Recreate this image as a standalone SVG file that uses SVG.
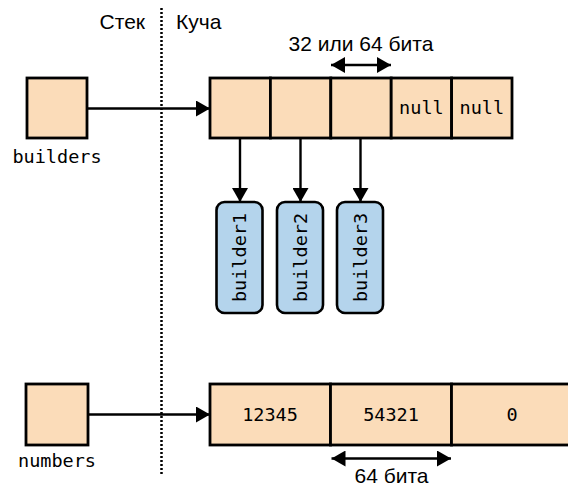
<svg xmlns="http://www.w3.org/2000/svg" width="568" height="486" viewBox="0 0 568 486">
<style>
.cell{fill:#fbdcb9;stroke:#000;stroke-width:2.8}
.obj{fill:#b4d4ec;stroke:#000;stroke-width:2.6}
.ln{stroke:#000;stroke-width:2.4;fill:none}
.mono{font-family:"DejaVu Sans Mono","Liberation Mono",monospace;font-size:18.5px;fill:#000}
.sans{font-family:"Liberation Sans",Arial,sans-serif;font-size:21px;fill:#000}
</style>
<defs>
<marker id="ah" markerUnits="userSpaceOnUse" markerWidth="14" markerHeight="16" refX="14" refY="8" orient="auto-start-reverse">
<path d="M0,0 L14,8 L0,16 z" fill="#000"/>
</marker>
</defs>
<rect width="568" height="486" fill="#fff"/>
<g id="divider">
<line x1="161.5" y1="8" x2="161.5" y2="476" stroke="#000" stroke-width="2.5" stroke-dasharray="2 2"/>
<text class="sans" x="145" y="29" text-anchor="end">Стек</text>
<text class="sans" x="176" y="29">Куча</text>
</g>
<g id="builders">
<rect class="cell" x="27" y="78" width="60" height="60"/>
<text class="mono" x="57" y="163" text-anchor="middle">builders</text>
</g>
<g id="builders-array">
<rect class="cell" x="210" y="78" width="60.4" height="60"/>
<rect class="cell" x="270.4" y="78" width="60.4" height="60"/>
<rect class="cell" x="330.8" y="78" width="60.4" height="60"/>
<rect class="cell" x="391.2" y="78" width="60.4" height="60"/>
<rect class="cell" x="451.6" y="78" width="60.4" height="60"/>
<text class="mono" x="421.4" y="114" text-anchor="middle">null</text>
<text class="mono" x="481.8" y="114" text-anchor="middle">null</text>
</g>
<g id="size-top">
<text class="sans" x="361" y="51" text-anchor="middle">32 или 64 бита</text>
</g>
<g id="builder1">
<rect class="obj" x="216.5" y="202" width="46" height="111" rx="8"/>
<text class="mono" transform="translate(246,257.5) rotate(-90)" text-anchor="middle">builder1</text>
</g>
<g id="builder2">
<rect class="obj" x="277" y="202" width="46" height="111" rx="8"/>
<text class="mono" transform="translate(306.5,257.5) rotate(-90)" text-anchor="middle">builder2</text>
</g>
<g id="builder3">
<rect class="obj" x="337" y="202" width="46" height="111" rx="8"/>
<text class="mono" transform="translate(366.5,257.5) rotate(-90)" text-anchor="middle">builder3</text>
</g>
<g id="numbers">
<rect class="cell" x="26" y="384" width="62" height="61"/>
<text class="mono" x="57" y="467" text-anchor="middle">numbers</text>
</g>
<g id="numbers-array">
<rect class="cell" x="210" y="384" width="120.5" height="61"/>
<rect class="cell" x="330.5" y="384" width="121" height="61"/>
<rect class="cell" x="451.5" y="384" width="130" height="61"/>
<text class="mono" x="270" y="420.5" text-anchor="middle">12345</text>
<text class="mono" x="391" y="420.5" text-anchor="middle">54321</text>
<text class="mono" x="512" y="420.5" text-anchor="middle">0</text>
</g>
<g id="size-bottom">
<text class="sans" x="391.5" y="483" text-anchor="middle">64 бита</text>
</g>
<g id="connectors">
<line class="ln" x1="87" y1="108.5" x2="210" y2="108.5" marker-end="url(#ah)"/>
<line class="ln" x1="88" y1="414.5" x2="210" y2="414.5" marker-end="url(#ah)"/>
<line class="ln" x1="240" y1="138" x2="240" y2="202" marker-end="url(#ah)"/>
<line class="ln" x1="300.5" y1="138" x2="300.5" y2="202" marker-end="url(#ah)"/>
<line class="ln" x1="360.5" y1="138" x2="360.5" y2="202" marker-end="url(#ah)"/>
<line class="ln" x1="331" y1="65" x2="391" y2="65" marker-start="url(#ah)" marker-end="url(#ah)"/>
<line class="ln" x1="331.5" y1="458.5" x2="451" y2="458.5" marker-start="url(#ah)" marker-end="url(#ah)"/>
</g>
</svg>
